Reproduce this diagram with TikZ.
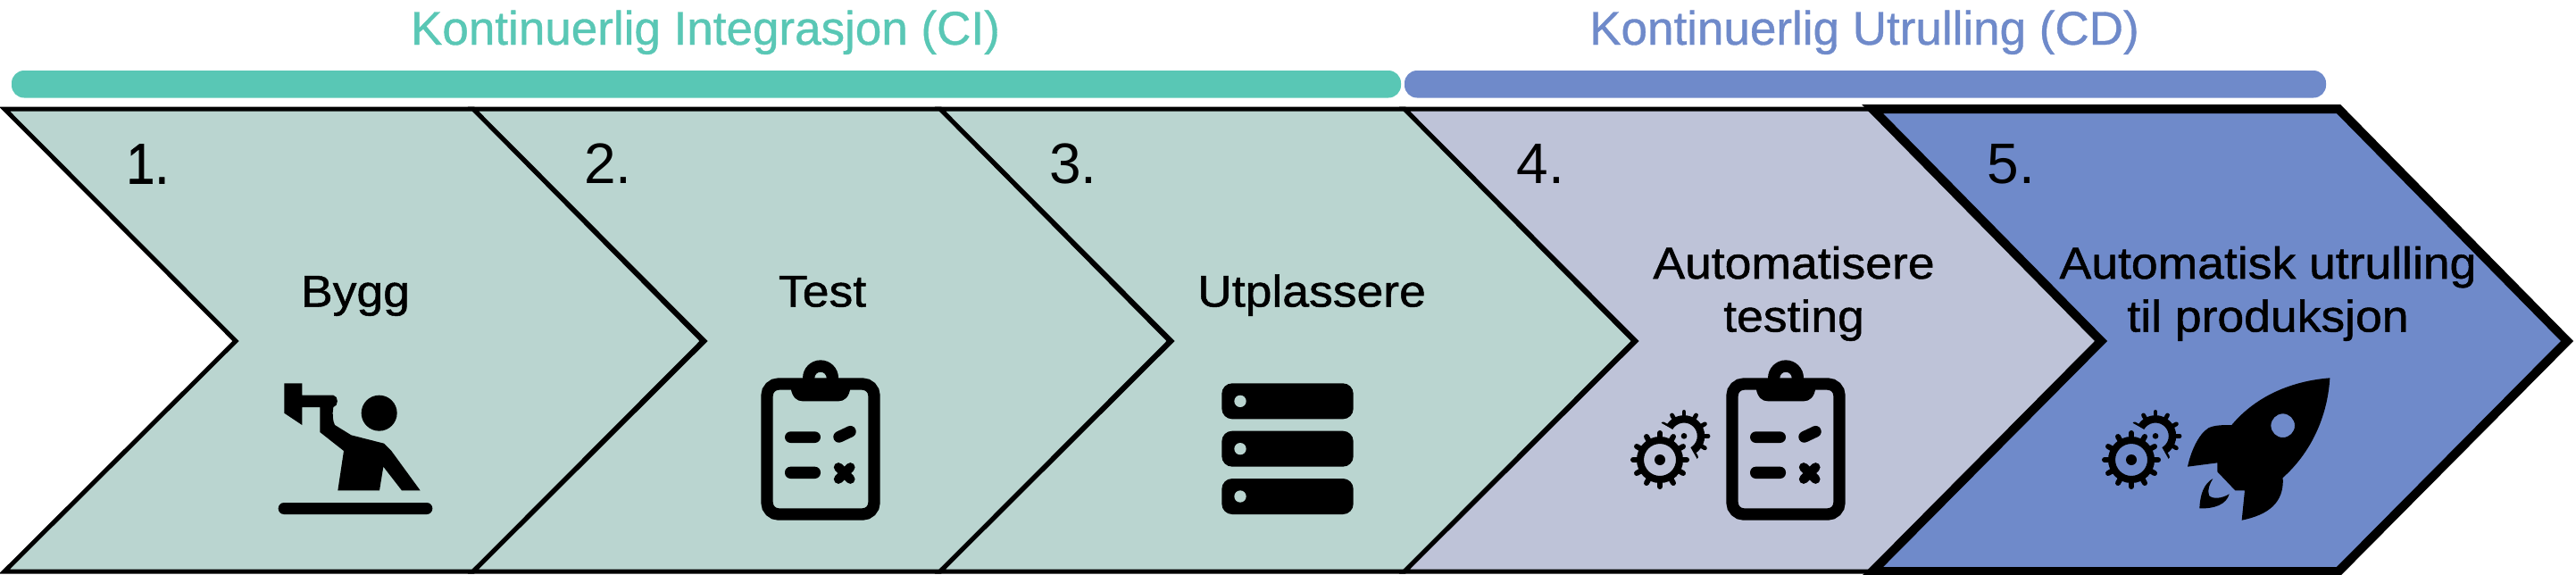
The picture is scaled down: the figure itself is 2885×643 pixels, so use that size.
\documentclass[tikz,border=0pt]{standalone}
\usepackage{fontspec}
\setmainfont{Liberation Sans}
\newfontfamily\headfont[FakeBold=0.7]{Liberation Sans}
\newfontfamily\stepfont[FakeBold=1.0,FakeStretch=1.07]{Liberation Sans}
\newfontfamily\onefont[FakeBold=1.0,FakeStretch=0.9]{Liberation Sans}
\newfontfamily\numfont{Liberation Sans}
\definecolor{cteal}{HTML}{59C7B5}
\definecolor{cblue}{HTML}{6F8ACA}
\definecolor{cmint}{HTML}{BAD5D0}
\definecolor{clilac}{HTML}{BEC3D8}
\tikzset{
  chevbox/.style={draw=black,line width=2.5pt,line join=miter,miter limit=10},
  headbar/.style={rounded corners=7pt},
  headtext/.style={anchor=base,inner sep=0pt,font=\headfont\fontsize{26.5}{30}\selectfont},
  numtext/.style={anchor=base west,inner sep=0pt,font=\numfont\fontsize{32}{36}\selectfont},
  steptext/.style={anchor=base,inner sep=0pt,font=\stepfont\fontsize{25}{30}\selectfont},
  iconframe/.style={x=0.16667pt,y=-0.16667pt},
}
\newcommand{\chevshape}[2]{(#1,122) -- ++(#2,0) -- ++(257,260) -- ++(-257,258) -- ++(-#2,0) -- ++(259,-258) -- cycle}
% clipboard in local units
\newcommand{\clipicon}{%
  \draw[line width=6.67pt,rounded corners=6.5pt] (420,90) rectangle (780,528);
  \fill[even odd rule] (540,70) arc[start angle=180,end angle=360,radius=60] -- (660,80) -- (700,90) -- (700,105)
     .. controls (695,135) and (680,148) .. (660,148) -- (540,148) .. controls (520,148) and (505,135) .. (500,105) -- (500,90) -- (540,80) -- cycle
     (620,70) arc[start angle=0,end angle=360,radius=20];
  \fill[rounded corners=3.2pt] (480,250) rectangle (600,288);
  \fill[rounded corners=3.2pt] (480,368) rectangle (600,408);
  \draw[line width=6.4pt,line cap=round] (662,268) -- (700,250);
  \draw[line width=5.2pt,line cap=round] (660,370) -- (700,410);
  \draw[line width=5.2pt,line cap=round] (700,370) -- (660,410);
}
% pair of gears in local units; #1 = background colour
\newcommand{\gearicon}[1]{%
  \draw[line width=4.2pt] (258,265) circle[radius=57];
  \foreach \a in {0,30,...,330}{\draw[line width=2.4pt,line cap=round] (258,265) ++(\a:66) -- ++(\a:15);}
  \fill[#1] (258,265) -- (165,212) -- (90,300) -- (230,460) -- (322,378) -- cycle;
  \fill (258,265) circle[radius=10];
  \draw[line width=4pt] (177,345) circle[radius=66];
  \fill (177,345) circle[radius=18];
  \foreach \a in {0,30,...,330}{\draw[line width=3pt,line cap=round] (177,345) ++(\a:74) -- ++(\a:16);}
}
\begin{document}
\begin{tikzpicture}[x=0.5pt,y=-0.5pt]
\useasboundingbox (0,0) rectangle (2885,643);
\fill[white] (0,0) rectangle (2885,643);

\fill[cteal,headbar] (13,79) rectangle (1569,109.5);
\fill[cblue,headbar] (1573,79) rectangle (2605,109.5);
\node[headtext,text=cteal] (ci) at (790,50) {Kontinuerlig Integrasjon (CI)};
\node[headtext,text=cblue] (cd) at (2088,50) {Kontinuerlig Utrulling (CD)};

\draw[chevbox,fill=cmint] \chevshape{5}{525};
\draw[chevbox,fill=cmint] \chevshape{530}{523};
\draw[chevbox,fill=cmint] \chevshape{1053}{520};
\draw[chevbox,fill=clilac] \chevshape{1573}{524};
\draw[chevbox,fill=cblue,line width=5pt] (2097,122) -- (2619,122) -- (2875,382) -- (2619,640) -- (2097,640) -- (2353,382) -- cycle;

\node[numtext,font=\onefont\fontsize{32}{36}\selectfont] (n1) at (141,205.5) {1.};
\node[numtext] (n2) at (654,205.5) {2.};
\node[numtext] (n3) at (1175,205.5) {3.};
\node[numtext] (n4) at (1698,205.5) {4.};
\node[numtext] (n5) at (2225,205.5) {5.};

\node[steptext] (s1) at (398,343.5) {Bygg};
\node[steptext] (s2) at (921,343.5) {Test};
\node[steptext] (s3) at (1469,343.5) {Utplassere};
\node[steptext] (s4a) at (2009,312) {Automatisere};
\node[steptext] (s4b) at (2009,371.5) {testing};
\node[steptext] (s5a) at (2540,312) {Automatisk utrulling};
\node[steptext] (s5b) at (2540,371.5) {til produksjon};

% builder
\begin{scope}[shift={(280,400)},iconframe]
  \fill (115,88) -- (175,88) -- (175,128) -- (280,128) .. controls (298,130) and (298,165) .. (280,168)
    .. controls (276,190) and (278,215) .. (285,228) -- (340,262) -- (450,290) -- (475,315) -- (572,448) -- (510,448)
    -- (448,368) -- (435,448) -- (295,448) -- (315,315) -- (235,252) -- (235,168) -- (175,168) -- (175,228) -- (115,188) -- cycle;
  \fill (434,188) circle[radius=60];
  \fill[rounded corners=3.2pt] (95,489) rectangle (613,528);
\end{scope}

% test clipboard
\begin{scope}[shift={(719,400)},iconframe]
  \clipicon
\end{scope}

% servers
\begin{scope}[shift={(1340,410)},iconframe]
  \foreach \yy in {0,160,320}{
    \fill[rounded corners=5.8pt] (85,58+\yy) rectangle (527,178+\yy);
    \fill[cmint] (147,118+\yy) circle[radius=20];
  }
\end{scope}

% automated testing
\begin{scope}[shift={(1800,400)},iconframe]
  \gearicon{clilac}
  \clipicon
\end{scope}

% rocket
\begin{scope}[shift={(2328,400)},iconframe]
  \gearicon{cblue}
\end{scope}
\begin{scope}[shift={(2340,400)},iconframe]
  \fill[even odd rule] (808,70) .. controls (680,80) and (560,130) .. (478,228)
    .. controls (450,228) and (420,228) .. (400,238) .. controls (365,260) and (340,320) .. (330,368)
    -- (430,355) -- (430,385) -- (490,448) -- (522,448) -- (512,548)
    .. controls (600,530) and (655,490) .. (650,405) .. controls (745,320) and (800,200) .. (808,70) -- cycle
    (690,230) arc[start angle=0,end angle=360,radius=40];
  \fill (415,408) .. controls (385,425) and (372,460) .. (370,508)
    .. controls (420,510) and (460,495) .. (470,460) .. controls (445,475) and (415,478) .. (402,465)
    .. controls (395,445) and (405,425) .. (415,408) -- cycle;
\end{scope}
\end{tikzpicture}
\end{document}
